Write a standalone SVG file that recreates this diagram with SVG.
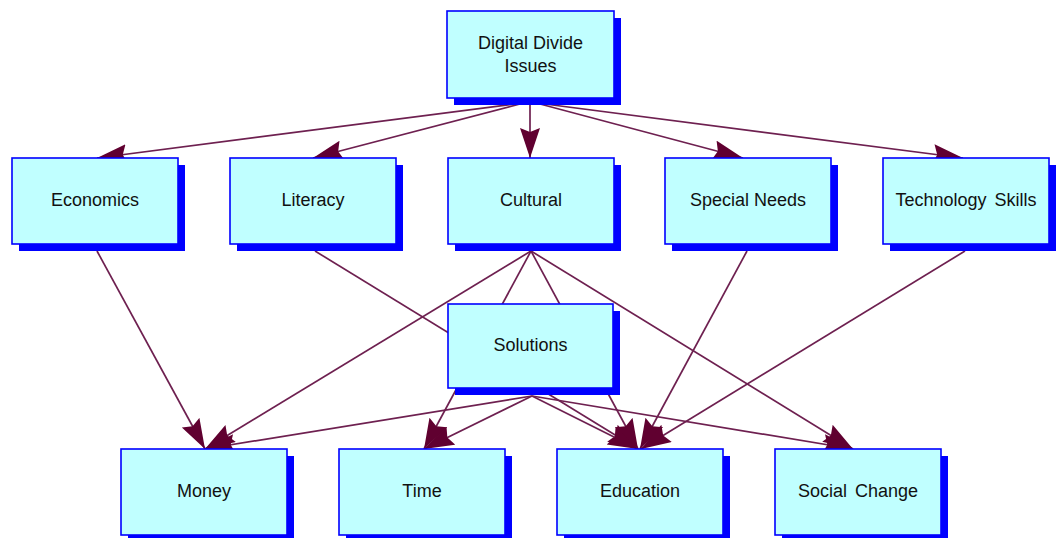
<svg xmlns="http://www.w3.org/2000/svg" width="1057" height="538" viewBox="0 0 1057 538">
  <style>
    .shadow { fill: #0000ff; }
    .box { fill: #c0ffff; stroke: #0000ff; stroke-width: 1.6; }
    .label { font-family: "Liberation Sans", Arial, sans-serif; font-size: 18px; fill: #111; text-anchor: middle; dominant-baseline: central; }
    .edge { fill: none; stroke: #6e2050; stroke-width: 1.7; marker-end: url(#head); }
  </style>
  <defs>
    <marker id="head" markerUnits="userSpaceOnUse" markerWidth="32" markerHeight="22" refX="30" refY="10" orient="auto">
      <path d="M0,0 L30,10 L0,20 L4,10 z" fill="#600030"/>
    </marker>
  </defs>
  <rect width="1057" height="538" fill="#ffffff"/>

  <!-- connectors, drawn under the nodes -->
  <g id="connectors">
    <path class="edge" d="M515,104 L97,158"/>
    <path class="edge" d="M520,104 L313,158"/>
    <path class="edge" d="M530,104 L530,158"/>
    <path class="edge" d="M540,104 L743,158"/>
    <path class="edge" d="M545,104 L963,158"/>
    <path class="edge" d="M97,251 L205,449"/>
    <path class="edge" d="M315,251 L638,449"/>
    <path class="edge" d="M531,251 L205,449"/>
    <path class="edge" d="M531,251 L424,449"/>
    <path class="edge" d="M531,251 L638,449"/>
    <path class="edge" d="M531,251 L853,449"/>
    <path class="edge" d="M747,251 L640,449"/>
    <path class="edge" d="M965,251 L641,449"/>
    <path class="edge" d="M532,396 L205,449"/>
    <path class="edge" d="M532,396 L424,449"/>
    <path class="edge" d="M532,396 L638,449"/>
    <path class="edge" d="M532,396 L853,449"/>
  </g>

  <g id="digital-divide-issues">
    <rect class="shadow" x="454" y="18" width="167" height="87"/>
    <rect class="box" x="447" y="11" width="167" height="87"/>
    <text class="label" x="530.5" y="43">Digital Divide</text>
    <text class="label" x="530.5" y="66">Issues</text>
  </g>

  <g id="economics">
    <rect class="shadow" x="19" y="165" width="166" height="86"/>
    <rect class="box" x="12" y="158" width="166" height="86"/>
    <text class="label" x="95" y="200">Economics</text>
  </g>
  <g id="literacy">
    <rect class="shadow" x="237" y="165" width="166" height="86"/>
    <rect class="box" x="230" y="158" width="166" height="86"/>
    <text class="label" x="313" y="200">Literacy</text>
  </g>
  <g id="cultural">
    <rect class="shadow" x="455" y="165" width="166" height="86"/>
    <rect class="box" x="448" y="158" width="166" height="86"/>
    <text class="label" x="531" y="200">Cultural</text>
  </g>
  <g id="special-needs">
    <rect class="shadow" x="672" y="165" width="166" height="86"/>
    <rect class="box" x="665" y="158" width="166" height="86"/>
    <text class="label" x="748" y="200">Special Needs</text>
  </g>
  <g id="technology-skills">
    <rect class="shadow" x="890" y="165" width="166" height="86"/>
    <rect class="box" x="883" y="158" width="166" height="86"/>
    <text class="label" x="966" y="200" style="word-spacing:3px">Technology Skills</text>
  </g>

  <g id="solutions">
    <rect class="shadow" x="455" y="311" width="165" height="84"/>
    <rect class="box" x="448" y="304" width="165" height="84"/>
    <text class="label" x="530.5" y="345">Solutions</text>
  </g>

  <g id="money">
    <rect class="shadow" x="128" y="456" width="166" height="86"/>
    <rect class="box" x="121" y="449" width="166" height="86"/>
    <text class="label" x="204" y="491">Money</text>
  </g>
  <g id="time">
    <rect class="shadow" x="346" y="456" width="166" height="86"/>
    <rect class="box" x="339" y="449" width="166" height="86"/>
    <text class="label" x="422" y="491">Time</text>
  </g>
  <g id="education">
    <rect class="shadow" x="564" y="456" width="166" height="86"/>
    <rect class="box" x="557" y="449" width="166" height="86"/>
    <text class="label" x="640" y="491">Education</text>
  </g>
  <g id="social-change">
    <rect class="shadow" x="782" y="456" width="166" height="86"/>
    <rect class="box" x="775" y="449" width="166" height="86"/>
    <text class="label" x="858" y="491" style="word-spacing:3px">Social Change</text>
  </g>
</svg>
